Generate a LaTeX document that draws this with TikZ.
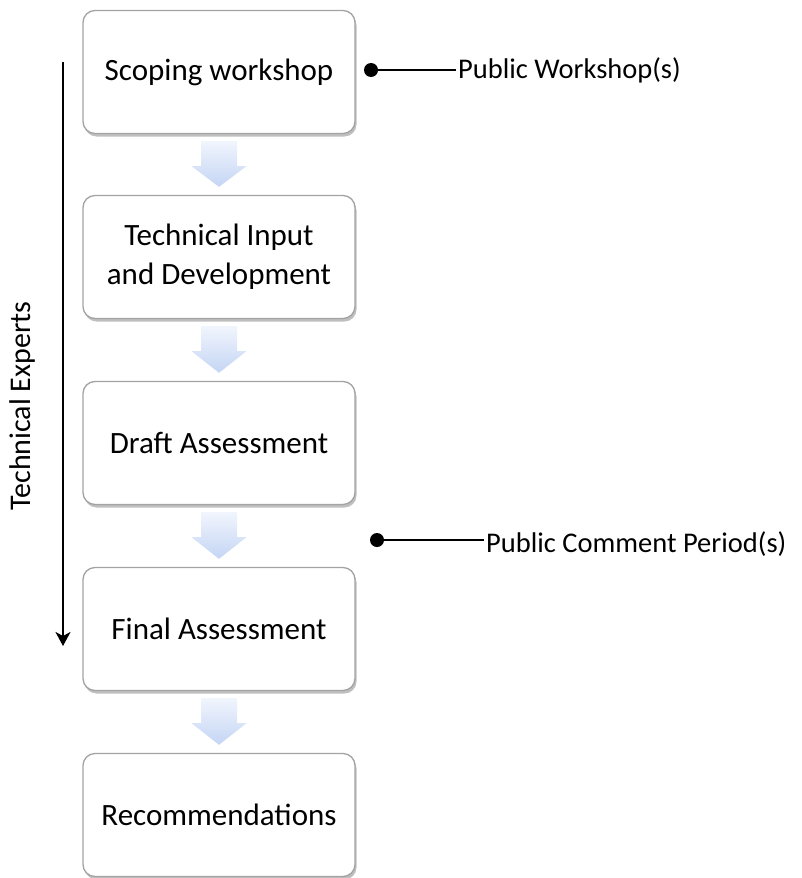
\documentclass[tikz,border=0pt]{standalone}
\usepackage{fontspec}
\setmainfont{Carlito}
\usetikzlibrary{calc,shadows,arrows.meta}

\definecolor{arrowtop}{HTML}{F1F5FD}
\definecolor{arrowbot}{HTML}{C4D5F4}
\definecolor{boxline}{HTML}{A3A3A3}

\tikzset{
    stage/.style={draw=boxline, line width=1.3pt, fill=white, rounded corners=12pt,
        minimum width=272pt, minimum height=123pt, align=center,
        font=\fontsize{31}{39}\selectfont,
        drop shadow={shadow xshift=1.5pt, shadow yshift=-3pt, opacity=0.25, fill=black}},
    note/.style={right, font=\fontsize{28.5}{34}\selectfont, inner sep=2pt},
    dot/.style={circle, fill=black, inner sep=0pt, minimum size=14pt}
}

\begin{document}
\begin{tikzpicture}[x=1pt,y=-1pt]
    \useasboundingbox (0,0) rectangle (801,878);

    % Stages
    \node[stage] (scoping) at (219,72) {Scoping workshop};
    \node[stage] (techinput) at (219,257) {Technical Input\\and Development};
    \node[stage] (draft) at (219,443) {Draft Assessment};
    \node[stage] (final) at (219,629) {Final Assessment};
    \node[stage] (recs) at (219,815) {Recommendations};

    % Block arrows between stages
    \foreach \a/\b in {scoping/techinput, techinput/draft, draft/final, final/recs}
        \shade[top color=arrowtop, bottom color=arrowbot]
            ($(\a.south)+(-18,7)$) -- ($(\a.south)+(18,7)$) -- ($(\a.south)+(18,32)$)
            -- ($(\a.south)+(27.5,32)$) -- ($(\b.north)+(0,-8)$)
            -- ($(\a.south)+(-27.5,32)$) -- ($(\a.south)+(-18,32)$) -- cycle;

    % Public involvement
    \node[dot] (wsdot) at (371,70) {};
    \node[note] (wslabel) at (456,70) {Public Workshop(s)};
    \draw[line width=2pt] (wsdot) -- (wslabel.west);

    \node[dot] (pcdot) at (377,540) {};
    \node[note] (pclabel) at (484,544) {Public Comment Period(s)};
    \draw[line width=2pt] (pcdot) -- (pcdot -| pclabel.west);

    % Technical experts
    \coordinate (expstart) at (63,62);
    \coordinate (expend) at (63,646);
    \draw[line width=2pt, -{Stealth[length=14pt,width=15pt,inset=4pt]}] (expstart) -- (expend);
    \node[rotate=90, font=\fontsize{30}{36}\selectfont] (experts) at (23,406) {Technical Experts};
\end{tikzpicture}
\end{document}
